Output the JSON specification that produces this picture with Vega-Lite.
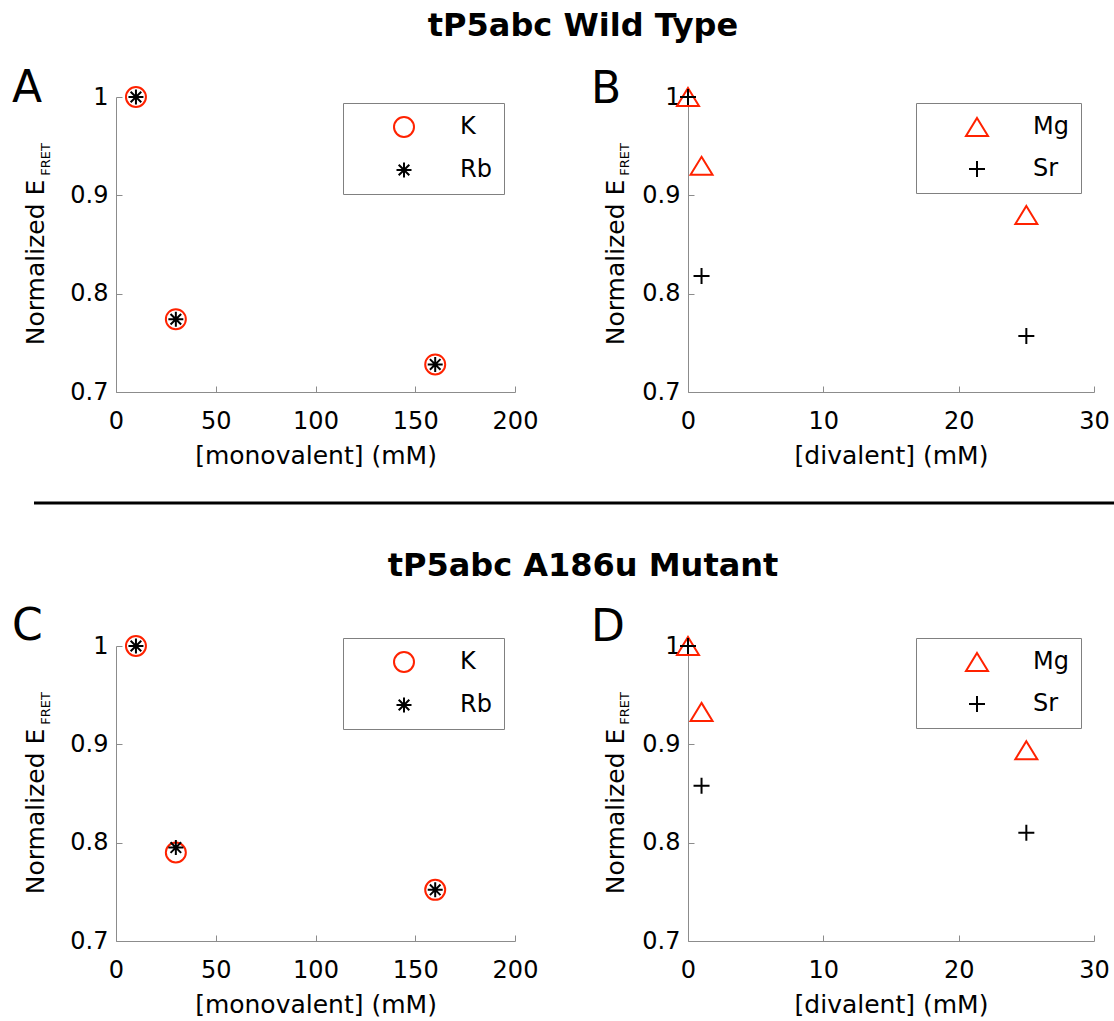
{
  "$schema": "https://vega.github.io/schema/vega-lite/v6.json",
  "padding": {"left": 12, "top": 10, "right": 0, "bottom": 3},
  "background": "white",
  "data": {
    "values": [
      {"panel": "A", "ion": "K", "conc": 10, "efret": 1.0},
      {"panel": "A", "ion": "K", "conc": 30, "efret": 0.774},
      {"panel": "A", "ion": "K", "conc": 160, "efret": 0.728},
      {"panel": "A", "ion": "Rb", "conc": 10, "efret": 1.0},
      {"panel": "A", "ion": "Rb", "conc": 30, "efret": 0.774},
      {"panel": "A", "ion": "Rb", "conc": 160, "efret": 0.728},
      {"panel": "B", "ion": "Mg", "conc": 0, "efret": 1.0},
      {"panel": "B", "ion": "Mg", "conc": 1, "efret": 0.930},
      {"panel": "B", "ion": "Mg", "conc": 25, "efret": 0.880},
      {"panel": "B", "ion": "Sr", "conc": 0, "efret": 1.0},
      {"panel": "B", "ion": "Sr", "conc": 1, "efret": 0.818},
      {"panel": "B", "ion": "Sr", "conc": 25, "efret": 0.757},
      {"panel": "C", "ion": "K", "conc": 10, "efret": 1.0},
      {"panel": "C", "ion": "K", "conc": 30, "efret": 0.790},
      {"panel": "C", "ion": "K", "conc": 160, "efret": 0.752},
      {"panel": "C", "ion": "Rb", "conc": 10, "efret": 1.0},
      {"panel": "C", "ion": "Rb", "conc": 30, "efret": 0.795},
      {"panel": "C", "ion": "Rb", "conc": 160, "efret": 0.752},
      {"panel": "D", "ion": "Mg", "conc": 0, "efret": 1.0},
      {"panel": "D", "ion": "Mg", "conc": 1, "efret": 0.933},
      {"panel": "D", "ion": "Mg", "conc": 25, "efret": 0.894},
      {"panel": "D", "ion": "Sr", "conc": 0, "efret": 1.0},
      {"panel": "D", "ion": "Sr", "conc": 1, "efret": 0.858},
      {"panel": "D", "ion": "Sr", "conc": 25, "efret": 0.810}
    ]
  },
  "config": {
    "font": "DejaVu Sans",
    "view": {"stroke": null},
    "axis": {
      "grid": false,
      "domainColor": "#8c8c8c",
      "tickColor": "#8c8c8c",
      "tickSize": -6,
      "domainWidth": 1,
      "tickWidth": 1,
      "labelFont": "DejaVu Sans",
      "labelFontSize": 24,
      "labelColor": "black",
      "titleFont": "DejaVu Sans",
      "titleFontSize": 25,
      "titleFontWeight": "normal",
      "titleColor": "black"
    },
    "axisX": {"labelPadding": 23, "titlePadding": 10, "labelFlush": false},
    "axisY": {"labelPadding": 14},
    "legend": {
      "strokeColor": "#808080",
      "fillColor": "white",
      "padding": 12,
      "symbolSize": 400,
      "symbolStrokeWidth": 2,
      "symbolOffset": 37,
      "labelOffset": 44,
      "rowPadding": 17,
      "labelFont": "DejaVu Sans",
      "labelFontSize": 24,
      "labelColor": "black"
    },
    "title": {"font": "DejaVu Sans", "color": "black"}
  },
  "resolve": {"scale": {"color": "independent", "shape": "independent"}},
  "bounds": "full",
  "spacing": 33,
  "vconcat": [
    {
      "title": {"text": "tP5abc Wild Type", "anchor": "middle", "frame": "group", "fontSize": 32, "fontWeight": "bold", "baseline": "alphabetic", "offset": 0, "dx": 467, "dy": 1},
      "bounds": "flush",
      "spacing": 173,
      "resolve": {"scale": {"color": "independent", "shape": "independent"}},
      "hconcat": [
        {
          "title": {"text": "A", "anchor": "start", "frame": "group", "fontSize": 44, "fontWeight": "normal", "baseline": "alphabetic", "offset": 0, "dx": -104, "dy": 63},
          "width": 399,
          "height": 295,
          "transform": [{"filter": "datum.panel === 'A'"}],
          "encoding": {"x": {"field": "conc", "type": "quantitative", "scale": {"domain": [0, 200], "nice": false}, "axis": {"values": [0, 50, 100, 150, 200], "title": "[monovalent] (mM)"}}},
          "layer": [
            {
              "mark": {"type": "point", "filled": false, "strokeWidth": 2, "size": 400, "opacity": 1},
              "encoding": {
                "y": {"field": "efret", "type": "quantitative", "scale": {"domain": [0.7, 1], "nice": false, "zero": false}, "axis": {"values": [0.7, 0.8, 0.9, 1], "format": "~g", "title": "Normalized E", "titleX": -73, "titleY": 165, "titleAngle": 270, "titleAlign": "center", "titleBaseline": "alphabetic"}},
                "shape": {"field": "ion", "type": "nominal", "scale": {"domain": ["K", "Rb"], "range": ["circle", "M-0.75,0L0.75,0M0,-0.75L0,0.75M-0.53,-0.53L0.53,0.53M-0.53,0.53L0.53,-0.53"]}, "legend": {"title": null, "orient": "none", "legendX": 227, "legendY": 6}},
                "color": {"field": "ion", "type": "nominal", "scale": {"domain": ["K", "Rb"], "range": ["#ff2200", "#000000"]}, "legend": {"title": null, "orient": "none", "legendX": 227, "legendY": 6}}
              }
            },
            {
              "mark": {"type": "point", "opacity": 0},
              "encoding": {"y": {"field": "efret", "type": "quantitative", "axis": {"orient": "left", "title": "FRET", "labels": false, "ticks": false, "domain": false, "titleFontSize": 13, "titleX": -67, "titleY": 62, "titleAngle": 270, "titleAlign": "center", "titleBaseline": "alphabetic"}}}
            }
          ],
          "resolve": {"axis": {"y": "independent"}}
        },
        {
          "title": {"text": "B", "anchor": "start", "frame": "group", "fontSize": 44, "fontWeight": "normal", "baseline": "alphabetic", "offset": 0, "dx": -97, "dy": 63},
          "width": 406,
          "height": 295,
          "transform": [{"filter": "datum.panel === 'B'"}],
          "encoding": {"x": {"field": "conc", "type": "quantitative", "scale": {"domain": [0, 30], "nice": false}, "axis": {"values": [0, 10, 20, 30], "title": "[divalent] (mM)"}}},
          "layer": [
            {
              "mark": {"type": "point", "filled": false, "strokeWidth": 2, "size": 400, "opacity": 1},
              "encoding": {
                "y": {"field": "efret", "type": "quantitative", "scale": {"domain": [0.7, 1], "nice": false, "zero": false}, "axis": {"values": [0.7, 0.8, 0.9, 1], "format": "~g", "title": "Normalized E", "titleX": -65, "titleY": 165, "titleAngle": 270, "titleAlign": "center", "titleBaseline": "alphabetic"}},
                "shape": {"field": "ion", "type": "nominal", "scale": {"domain": ["Mg", "Sr"], "range": ["M0,-0.9L1.1,0.9L-1.1,0.9Z", "M-0.8,0L0.8,0M0,-0.8L0,0.8"]}, "legend": {"title": null, "orient": "none", "legendX": 228, "legendY": 6}},
                "color": {"field": "ion", "type": "nominal", "scale": {"domain": ["Mg", "Sr"], "range": ["#ff2200", "#000000"]}, "legend": {"title": null, "orient": "none", "legendX": 228, "legendY": 6}}
              }
            },
            {
              "mark": {"type": "point", "opacity": 0},
              "encoding": {"y": {"field": "efret", "type": "quantitative", "axis": {"orient": "left", "title": "FRET", "labels": false, "ticks": false, "domain": false, "titleFontSize": 13, "titleX": -60, "titleY": 62, "titleAngle": 270, "titleAlign": "center", "titleBaseline": "alphabetic"}}}
            }
          ],
          "resolve": {"axis": {"y": "independent"}}
        }
      ]
    },
    {
      "width": 978,
      "height": 14,
      "data": {"values": [{"line": "separator"}]},
      "mark": {"type": "rule", "color": "black", "strokeWidth": 3},
      "encoding": {
        "x": {"datum": -0.08384, "type": "quantitative", "scale": {"domain": [0, 1], "nice": false, "zero": false}, "axis": null},
        "x2": {"datum": 1.02045},
        "y": {"datum": 1, "type": "quantitative", "scale": {"domain": [0, 1]}, "axis": null}
      }
    },
    {
      "title": {"text": "tP5abc A186u Mutant", "anchor": "middle", "frame": "group", "fontSize": 32, "fontWeight": "bold", "baseline": "alphabetic", "offset": 0, "dx": 467, "dy": 3},
      "bounds": "flush",
      "spacing": 173,
      "resolve": {"scale": {"color": "independent", "shape": "independent"}},
      "hconcat": [
        {
          "title": {"text": "C", "anchor": "start", "frame": "group", "fontSize": 44, "fontWeight": "normal", "baseline": "alphabetic", "offset": 0, "dx": -104, "dy": 52},
          "width": 399,
          "height": 295,
          "transform": [{"filter": "datum.panel === 'C'"}],
          "encoding": {"x": {"field": "conc", "type": "quantitative", "scale": {"domain": [0, 200], "nice": false}, "axis": {"values": [0, 50, 100, 150, 200], "title": "[monovalent] (mM)"}}},
          "layer": [
            {
              "mark": {"type": "point", "filled": false, "strokeWidth": 2, "size": 400, "opacity": 1},
              "encoding": {
                "y": {"field": "efret", "type": "quantitative", "scale": {"domain": [0.7, 1], "nice": false, "zero": false}, "axis": {"values": [0.7, 0.8, 0.9, 1], "format": "~g", "title": "Normalized E", "titleX": -73, "titleY": 165, "titleAngle": 270, "titleAlign": "center", "titleBaseline": "alphabetic"}},
                "shape": {"field": "ion", "type": "nominal", "scale": {"domain": ["K", "Rb"], "range": ["circle", "M-0.75,0L0.75,0M0,-0.75L0,0.75M-0.53,-0.53L0.53,0.53M-0.53,0.53L0.53,-0.53"]}, "legend": {"title": null, "orient": "none", "legendX": 227, "legendY": -8}},
                "color": {"field": "ion", "type": "nominal", "scale": {"domain": ["K", "Rb"], "range": ["#ff2200", "#000000"]}, "legend": {"title": null, "orient": "none", "legendX": 227, "legendY": -8}}
              }
            },
            {
              "mark": {"type": "point", "opacity": 0},
              "encoding": {"y": {"field": "efret", "type": "quantitative", "axis": {"orient": "left", "title": "FRET", "labels": false, "ticks": false, "domain": false, "titleFontSize": 13, "titleX": -67, "titleY": 62, "titleAngle": 270, "titleAlign": "center", "titleBaseline": "alphabetic"}}}
            }
          ],
          "resolve": {"axis": {"y": "independent"}}
        },
        {
          "title": {"text": "D", "anchor": "start", "frame": "group", "fontSize": 44, "fontWeight": "normal", "baseline": "alphabetic", "offset": 0, "dx": -97, "dy": 52},
          "width": 406,
          "height": 295,
          "transform": [{"filter": "datum.panel === 'D'"}],
          "encoding": {"x": {"field": "conc", "type": "quantitative", "scale": {"domain": [0, 30], "nice": false}, "axis": {"values": [0, 10, 20, 30], "title": "[divalent] (mM)"}}},
          "layer": [
            {
              "mark": {"type": "point", "filled": false, "strokeWidth": 2, "size": 400, "opacity": 1},
              "encoding": {
                "y": {"field": "efret", "type": "quantitative", "scale": {"domain": [0.7, 1], "nice": false, "zero": false}, "axis": {"values": [0.7, 0.8, 0.9, 1], "format": "~g", "title": "Normalized E", "titleX": -65, "titleY": 165, "titleAngle": 270, "titleAlign": "center", "titleBaseline": "alphabetic"}},
                "shape": {"field": "ion", "type": "nominal", "scale": {"domain": ["Mg", "Sr"], "range": ["M0,-0.9L1.1,0.9L-1.1,0.9Z", "M-0.8,0L0.8,0M0,-0.8L0,0.8"]}, "legend": {"title": null, "orient": "none", "legendX": 228, "legendY": -8}},
                "color": {"field": "ion", "type": "nominal", "scale": {"domain": ["Mg", "Sr"], "range": ["#ff2200", "#000000"]}, "legend": {"title": null, "orient": "none", "legendX": 228, "legendY": -8}}
              }
            },
            {
              "mark": {"type": "point", "opacity": 0},
              "encoding": {"y": {"field": "efret", "type": "quantitative", "axis": {"orient": "left", "title": "FRET", "labels": false, "ticks": false, "domain": false, "titleFontSize": 13, "titleX": -60, "titleY": 62, "titleAngle": 270, "titleAlign": "center", "titleBaseline": "alphabetic"}}}
            }
          ],
          "resolve": {"axis": {"y": "independent"}}
        }
      ]
    }
  ]
}
